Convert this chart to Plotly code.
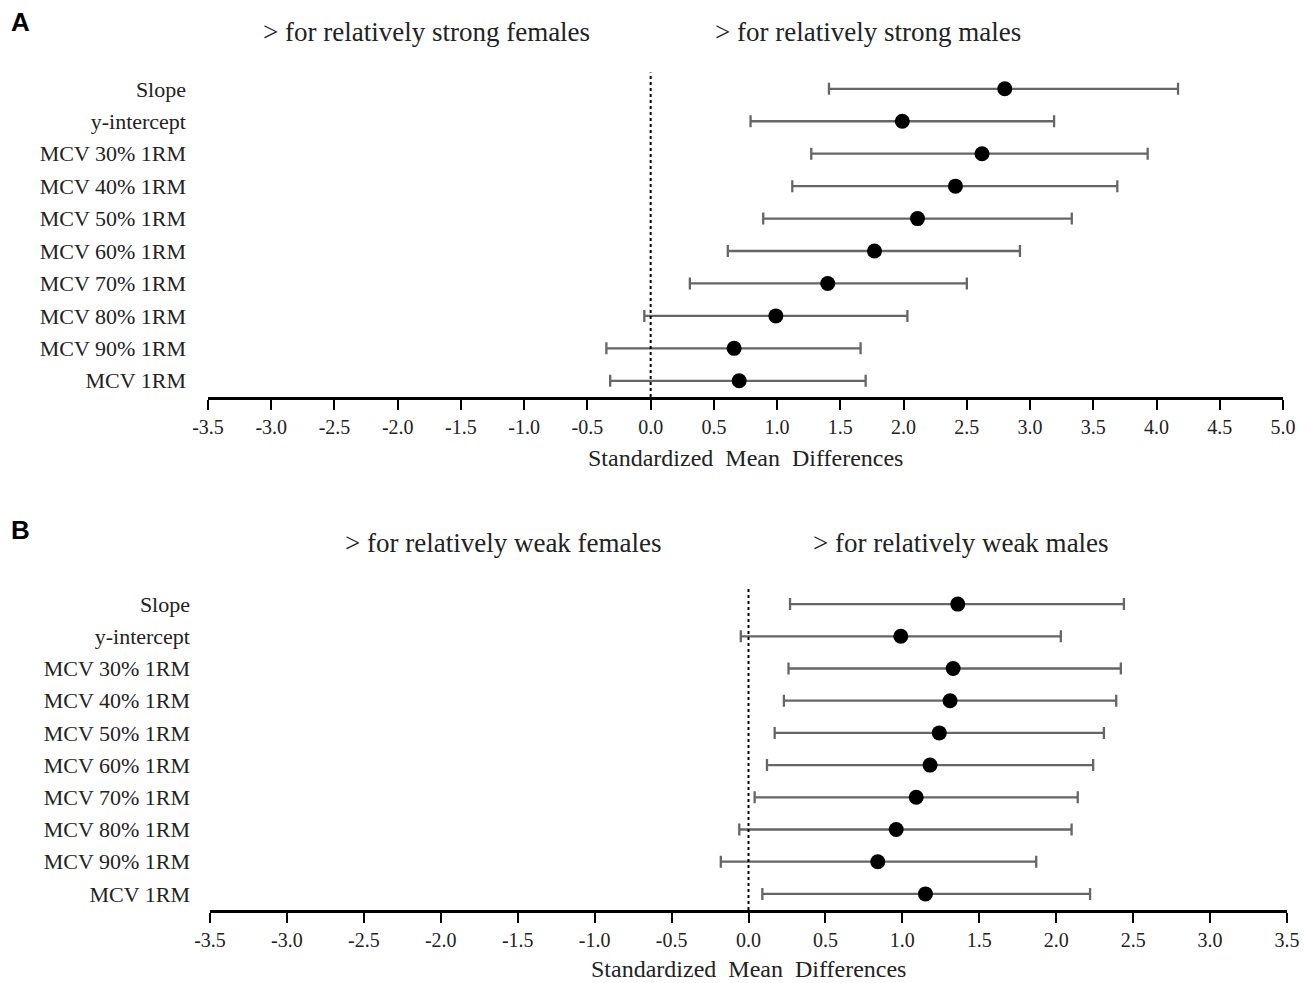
import plotly.graph_objects as go

categories = ["Slope", "y-intercept", "MCV 30% 1RM", "MCV 40% 1RM", "MCV 50% 1RM",
              "MCV 60% 1RM", "MCV 70% 1RM", "MCV 80% 1RM", "MCV 90% 1RM", "MCV 1RM"]

# Panel A: relatively strong
a_smd = [2.80, 1.99, 2.62, 2.41, 2.11, 1.77, 1.40, 0.99, 0.66, 0.70]
a_low = [1.41, 0.79, 1.27, 1.12, 0.89, 0.61, 0.31, -0.05, -0.35, -0.32]
a_high = [4.17, 3.19, 3.93, 3.69, 3.33, 2.92, 2.50, 2.03, 1.66, 1.70]

# Panel B: relatively weak
b_smd = [1.36, 0.99, 1.33, 1.31, 1.24, 1.18, 1.09, 0.96, 0.84, 1.15]
b_low = [0.27, -0.05, 0.26, 0.23, 0.17, 0.12, 0.04, -0.06, -0.18, 0.09]
b_high = [2.44, 2.03, 2.42, 2.39, 2.31, 2.24, 2.14, 2.10, 1.87, 2.22]

a_ticks = [-3.5 + 0.5 * i for i in range(18)]
b_ticks = [-3.5 + 0.5 * i for i in range(15)]

# the page body adds an 8px margin; size the figure so it fits the window
OFF = 8
W, H = 1310 - OFF, 983 - OFF

def fx(px):
    return (px - OFF) / W

def fy(py):
    return 1 - (py - OFF) / H

rows = list(range(len(categories), 0, -1))  # 10 .. 1

fig = go.Figure()

def add_panel(smd, low, high, xa, ya):
    fig.add_trace(go.Scatter(
        x=smd, y=rows, mode="markers", xaxis=xa, yaxis=ya,
        marker=dict(color="black", size=15),
        error_x=dict(type="data", symmetric=False,
                     array=[h - m for h, m in zip(high, smd)],
                     arrayminus=[m - l for m, l in zip(smd, low)],
                     color="#666666", thickness=2.3, width=6),
        showlegend=False, hoverinfo="skip"))

add_panel(a_smd, a_low, a_high, "x", "y")
add_panel(b_smd, b_low, b_high, "x2", "y2")

tickfont = dict(family="Liberation Serif", size=20, color="#222")
labfont = dict(family="Liberation Serif", size=22, color="#222")

def xaxis_cfg(x0, x1, anchor, ticks, rng):
    return dict(domain=[fx(x0), fx(x1)], range=rng, anchor=anchor,
                tickvals=ticks, ticktext=[f"{t:.1f}" for t in ticks],
                showgrid=False, zeroline=False, showline=True,
                linecolor="black", linewidth=2.5, ticks="outside",
                ticklen=10, tickwidth=1.8, tickcolor="black",
                tickfont=tickfont, fixedrange=True, automargin=False)

def yaxis_cfg(top_px, bot_px, anchor, standoff):
    return dict(domain=[fy(bot_px), fy(top_px)], range=[0.5, 10.5],
                anchor=anchor, tickvals=rows, ticktext=categories,
                showgrid=False, zeroline=False, showline=False, ticks="",
                ticklabelstandoff=standoff, tickfont=labfont, fixedrange=True,
                automargin=False)

fig.update_layout(
    width=W, height=H, margin=dict(l=0, r=0, t=0, b=0, autoexpand=False),
    paper_bgcolor="white", plot_bgcolor="white",
    xaxis=xaxis_cfg(208, 1283, "y", a_ticks, [-3.5, 5.0]),
    yaxis=yaxis_cfg(72.6, 397, "x", 21),
    xaxis2=xaxis_cfg(210, 1287, "y2", b_ticks, [-3.5, 3.5]),
    yaxis2=yaxis_cfg(588, 910, "x2", 19),
)

# zero reference lines
for xr, yr in [("x", "y domain"), ("x2", "y2 domain")]:
    fig.add_shape(type="line", xref=xr, yref=yr, x0=0, x1=0, y0=0, y1=1.0,
                  line=dict(color="black", width=2, dash="dot"))

hdr = dict(family="Liberation Serif", size=27, color="#222")
ttl = dict(family="Liberation Serif", size=24, color="#222")
letter = dict(family="Liberation Sans", size=26, color="black")
anns = [
    ("<b>A</b>", 9, 22, letter, "left"),
    ("<b>B</b>", 9, 530, letter, "left"),
    ("> for relatively strong females", 427, 32, hdr, "center"),
    ("> for relatively strong males", 868, 32, hdr, "center"),
    ("> for relatively weak females", 503, 543, hdr, "center"),
    ("> for relatively weak males", 961, 543, hdr, "center"),
    ("Standardized  Mean  Differences", 745, 458, ttl, "center"),
    ("Standardized  Mean  Differences", 748, 969, ttl, "center"),
]
for text, px, py, font, xa in anns:
    fig.add_annotation(text=text, x=fx(px), y=fy(py), xref="paper", yref="paper",
                       showarrow=False, font=font, xanchor=xa, yanchor="middle")

fig.write_html("out.html")
